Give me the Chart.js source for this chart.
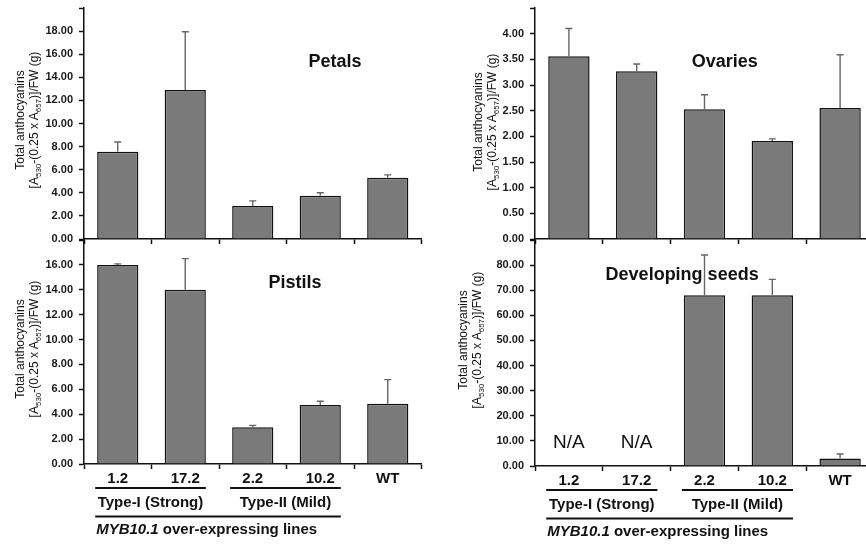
<!DOCTYPE html>
<html>
<head>
<meta charset="utf-8">
<script src="https://cdn.jsdelivr.net/npm/chart.js@4"></script>
<style>
  body { margin: 0; width: 866px; height: 545px; overflow: hidden; background: #fff; position: relative; font-family: Arial, 'Liberation Sans', sans-serif; }
  canvas { position: absolute; }
  .ylab { position: absolute; transform: translate(-50%, -50%) rotate(-90deg); white-space: nowrap; text-align: center; font-size: 12px; line-height: 14px; color: #111; }
  .ylab sub { font-size: 8px; vertical-align: -3px; line-height: 0; }
</style>
</head>
<body>
<canvas id="petalos" width="440" height="250" style="left:0;top:0"></canvas>
<canvas id="pistilos" width="440" height="315" style="left:0;top:230px"></canvas>
<canvas id="ovarios" width="450" height="250" style="left:430px;top:0"></canvas>
<canvas id="semillas" width="450" height="315" style="left:430px;top:230px"></canvas>

<script>
const lineas = ['1.2', '17.2', '2.2', '10.2', 'WT'];

const petalos = [7.55, 12.9, 2.85, 3.75, 5.3];
const petalosErr = [0.85, 5.05, 0.45, 0.25, 0.25];

const ovarios = [3.56, 3.27, 2.53, 1.91, 2.55];
const ovariosErr = [0.54, 0.14, 0.28, 0.04, 1.04];

const pistilos = [16.0, 14.0, 2.96, 4.75, 4.85];
const pistilosErr = [0.08, 2.5, 0.14, 0.29, 1.93];

// lines 1.2 and 17.2 gave no seeds
const semillas = [null, null, 68.0, 68.0, 3.0];
const semillasErr = [null, null, 16.0, 6.3, 1.75];

const nombresGrupos = ['Type-I (Strong)', 'Type-II (Mild)'];
const miembrosGrupos = [[0, 1], [2, 3]];

const FUENTE = "Arial, 'Liberation Sans', sans-serif";

// error bars, only the upper half
const barrasError = {
  id: 'barrasError',
  afterDatasetsDraw(chart, args, opts) {
    const ctx = chart.ctx;
    const y = chart.scales.y;
    const valores = chart.data.datasets[0].data;
    ctx.save();
    ctx.strokeStyle = '#666';
    ctx.lineWidth = 1.4;
    chart.getDatasetMeta(0).data.forEach((barra, i) => {
      if (valores[i] == null || opts.errs[i] == null) return;
      const arriba = y.getPixelForValue(valores[i] + opts.errs[i]);
      ctx.beginPath();
      ctx.moveTo(barra.x, barra.y);
      ctx.lineTo(barra.x, arriba);
      ctx.moveTo(barra.x - 3.5, arriba);
      ctx.lineTo(barra.x + 3.5, arriba);
      ctx.stroke();
    });
    ctx.restore();
  }
};

// organ name inside the plot area
const tituloPanel = {
  id: 'tituloPanel',
  afterDraw(chart, args, opts) {
    const { ctx, chartArea: a } = chart;
    ctx.save();
    ctx.font = 'bold 18px ' + FUENTE;
    ctx.fillStyle = '#111';
    ctx.textAlign = 'center';
    ctx.textBaseline = 'middle';
    ctx.fillText(opts.texto, a.left + opts.fx * (a.right - a.left), a.top + opts.fy * (a.bottom - a.top));
    ctx.restore();
  }
};

// "N/A" where a line has no value
const sinDatos = {
  id: 'sinDatos',
  afterDatasetsDraw(chart) {
    const { ctx } = chart;
    const x = chart.scales.x;
    const y0 = chart.scales.y.getPixelForValue(0);
    ctx.save();
    ctx.font = '19px ' + FUENTE;
    ctx.fillStyle = '#111';
    ctx.textAlign = 'center';
    ctx.textBaseline = 'middle';
    chart.data.datasets[0].data.forEach((v, i) => {
      if (v == null) ctx.fillText('N/A', x.getPixelForValue(i), y0 - 23);
    });
    ctx.restore();
  }
};

// underlines and group names below the line labels
const grupos = {
  id: 'grupos',
  afterDraw(chart, args, opts) {
    if (!opts.mostrar) return;
    const { ctx, chartArea: a } = chart;
    const x = chart.scales.x;
    const medio = (x.getPixelForValue(1) - x.getPixelForValue(0)) * 0.61 / 2;
    ctx.save();
    ctx.strokeStyle = '#111';
    ctx.fillStyle = '#111';
    ctx.lineWidth = 2;
    ctx.textBaseline = 'middle';
    ctx.textAlign = 'center';
    ctx.font = 'bold 15px ' + FUENTE;
    let inicio = null, fin = null;
    miembrosGrupos.forEach((m, g) => {
      const x1 = x.getPixelForValue(m[0]) - medio - 2;
      const x2 = x.getPixelForValue(m[m.length - 1]) + medio;
      if (inicio == null) inicio = x1;
      fin = x2;
      ctx.beginPath();
      ctx.moveTo(x1, a.bottom + 24);
      ctx.lineTo(x2, a.bottom + 24);
      ctx.stroke();
      ctx.fillText(nombresGrupos[g], (x1 + x2) / 2, a.bottom + 39);
    });
    ctx.beginPath();
    ctx.moveTo(inicio, a.bottom + 52.5);
    ctx.lineTo(fin, a.bottom + 52.5);
    ctx.stroke();
    ctx.textAlign = 'left';
    ctx.font = 'italic bold 15px ' + FUENTE;
    ctx.fillText('MYB10.1', inicio + 1, a.bottom + 66);
    const ancho = ctx.measureText('MYB10.1').width;
    ctx.font = 'bold 15px ' + FUENTE;
    ctx.fillText(' over-expressing lines', inicio + 1 + ancho, a.bottom + 66);
    ctx.restore();
  }
};

function crearPanel(id, cfg) {
  return new Chart(document.getElementById(id), {
    type: 'bar',
    data: {
      labels: lineas,
      datasets: [{
        data: cfg.datos,
        backgroundColor: '#7a7a7a',
        borderColor: '#111',
        borderWidth: 1.5,
        barPercentage: 0.61,
        categoryPercentage: 1
      }]
    },
    options: {
      responsive: false,
      animation: false,
      layout: { autoPadding: false, padding: { top: cfg.arriba, right: cfg.derecha, left: 0, bottom: 0 } },
      plugins: {
        legend: { display: false },
        tooltip: { enabled: false },
        barrasError: { errs: cfg.errores },
        tituloPanel: { texto: cfg.titulo, fx: cfg.fx, fy: cfg.fy },
        grupos: { mostrar: cfg.etiquetas }
      },
      scales: {
        x: {
          grid: { offset: true, drawOnChartArea: false, tickLength: 5, tickColor: '#111', tickWidth: 1.5 },
          border: { color: '#111', width: 1.5 },
          ticks: { display: cfg.etiquetas, color: '#111', padding: 1, font: { family: FUENTE, size: 15, weight: 'bold' } },
          afterFit: (s) => { s.height = cfg.altoX; s.paddingLeft = 0; s.paddingRight = 0; }
        },
        y: {
          min: 0,
          max: cfg.max,
          ticks: {
            stepSize: cfg.paso,
            color: '#1a1a1a',
            padding: 6,
            font: { family: FUENTE, size: 11, weight: 'bold' },
            callback: (v) => (v >= cfg.max ? '' : v.toFixed(2))
          },
          grid: { drawOnChartArea: false, tickLength: 5, tickColor: '#111', tickWidth: 1.5 },
          border: { color: '#111', width: 1.5 },
          afterFit: (s) => { s.width = cfg.anchoY; s.paddingTop = 0; s.paddingBottom = 0; }
        }
      }
    },
    plugins: [barrasError, tituloPanel, sinDatos, grupos]
  });
}

crearPanel('petalos', { datos: petalos, errores: petalosErr, titulo: 'Petals', fx: 0.744, fy: 0.234,
  max: 20, paso: 2, arriba: 8, derecha: 18.5, anchoY: 84, altoX: 11, etiquetas: false });
crearPanel('pistilos', { datos: pistilos, errores: pistilosErr, titulo: 'Pistils', fx: 0.625, fy: 0.19,
  max: 18, paso: 2, arriba: 10, derecha: 18.5, anchoY: 84, altoX: 81, etiquetas: true });
crearPanel('ovarios', { datos: ovarios, errores: ovariosErr, titulo: 'Ovaries', fx: 0.56, fy: 0.234,
  max: 4.5, paso: 0.5, arriba: 8, derecha: 6, anchoY: 105, altoX: 11, etiquetas: false });
crearPanel('semillas', { datos: semillas, errores: semillasErr, titulo: 'Developing seeds', fx: 0.434, fy: 0.155,
  max: 90, paso: 10, arriba: 10, derecha: 6, anchoY: 105, altoX: 79, etiquetas: true });

// y-axis titles with subscripts
const tituloY = 'Total anthocyanins<br>[A<sub>530</sub>-(0.25 x A<sub>657</sub>)]/FW (g)';
[[27, 120], [27, 349], [485, 122], [470, 340]].forEach(([cx, cy]) => {
  const d = document.createElement('div');
  d.className = 'ylab';
  d.style.left = cx + 'px';
  d.style.top = cy + 'px';
  d.innerHTML = tituloY;
  document.body.appendChild(d);
});
</script>
</body>
</html>
